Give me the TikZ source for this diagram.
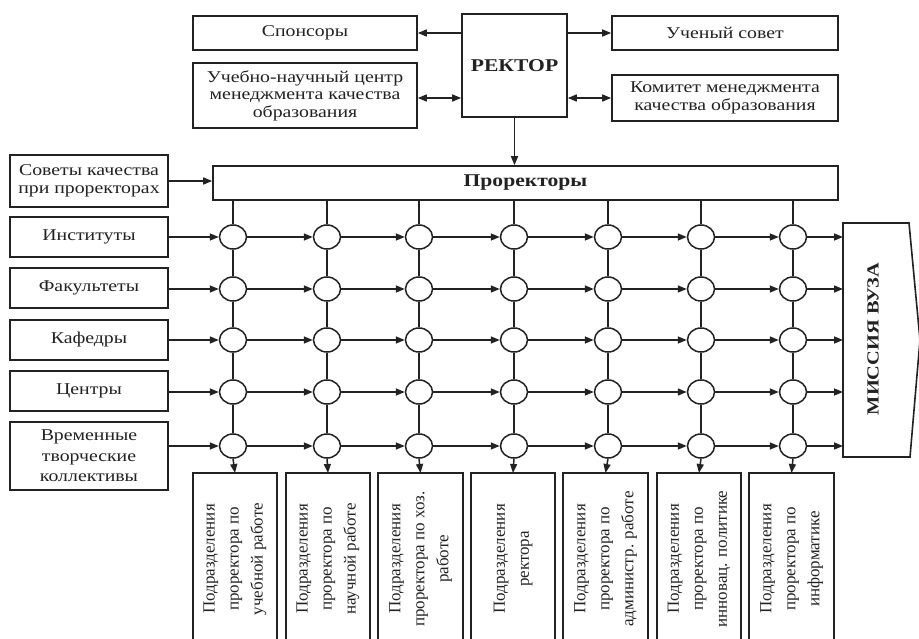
\documentclass[tikz,border=0pt]{standalone}
\usepackage{fontspec}
\setmainfont{Liberation Serif}[FakeStretch=1.2]
\newfontfamily\rotfont{Liberation Serif}
\usetikzlibrary{arrows.meta,shapes.geometric}
\definecolor{ink}{HTML}{222222}
\tikzset{
  boxstyle/.style={draw=ink, line width=1.6pt, rectangle, inner sep=0pt, align=center, font=\fontsize{16.5}{17.5}\selectfont, text=ink},
  circ/.style={draw=ink, line width=1.5pt, ellipse, minimum width=27pt, minimum height=24pt, inner sep=0pt, fill=white},
  conn/.style={draw=ink, line width=1.5pt},
  arr/.style={conn, -{Triangle[length=9pt,width=7pt]}},
  darr/.style={conn, {Triangle[length=9pt,width=7pt]}-{Triangle[length=9pt,width=7pt]}},
  vtext/.style={rotate=90, font=\rotfont\fontsize{17}{24}\selectfont, text=ink, align=center},
}
\begin{document}
\begin{tikzpicture}[x=1pt,y=-1pt]
\useasboundingbox (0,0) rectangle (919,639);
\fill[white] (0,0) rectangle (919,639);
% top boxes
\node[boxstyle, minimum width=224pt, minimum height=34pt] (spons) at (305,33) {Спонсоры};
\node[boxstyle, minimum width=224pt, minimum height=65pt] (ucheb) at (305,95.5) {Учебно-научный центр\\менеджмента качества\\образования};
\node[boxstyle, minimum width=105pt, minimum height=103pt, font=\bfseries\fontsize{18}{20}\selectfont] (rektor) at (514.5,65.5) {РЕКТОР};
\node[boxstyle, minimum width=226pt, minimum height=34pt] (uchsov) at (725,33) {Ученый совет};
\node[boxstyle, minimum width=226pt, minimum height=46pt] (komitet) at (725,98) {Комитет менеджмента\\качества образования};
\node[boxstyle, minimum width=625pt, minimum height=34pt, font=\bfseries\fontsize{18}{20}\selectfont] (prorek) at (525.5,183) {Проректоры};
\node[boxstyle, minimum width=158pt, minimum height=52pt] (sovety) at (89,181) {Советы качества\\при проректорах};
% left boxes
\node[boxstyle, minimum width=158pt, minimum height=40pt] (l1) at (89,237) {Институты};
\node[boxstyle, minimum width=158pt, minimum height=40pt] (l2) at (89,288) {Факультеты};
\node[boxstyle, minimum width=158pt, minimum height=40pt] (l3) at (89,340) {Кафедры};
\node[boxstyle, minimum width=158pt, minimum height=40pt] (l4) at (89,391) {Центры};
\node[boxstyle, minimum width=158pt, minimum height=68pt, font=\fontsize{16.5}{20.5}\selectfont] (l5) at (89,456) {Временные\\творческие\\коллективы};
% mission
\draw[ink, line width=1.6pt] (843,223) -- (909,223) -- (920,340) -- (910,457) -- (843,457) -- cycle;
\coordinate (mis) at (843,340);
\node[rotate=90, font=\bfseries\fontsize{17}{19}\selectfont, text=ink] (mtext) at (873,339) {МИССИЯ ВУЗА};
% bottom boxes
\foreach \i/\xa/\xb/\t in {
 1/193/277/{Подразделения\\проректора по\\учебной работе},
 2/286/370/{Подразделения\\проректора по\\научной работе},
 3/378/463/{Подразделения\\проректора по хоз.\\работе},
 4/471/555/{Подразделения\\ректора},
 5/563/648/{Подразделения\\проректора по\\администр. работе},
 6/657/741/{Подразделения\\проректора по\\инновац. политике},
 7/749/834/{Подразделения\\проректора по\\информатике}}{
  \draw[ink, line width=1.6pt] (\xa,473) rectangle (\xb,655);
  \node[vtext] (bt\i) at ({(\xa+\xb)/2},559) {\t};
  \coordinate (b\i) at ({(\xa+\xb)/2},473);
}
% circles
\foreach \c/\x in {1/233,2/327,3/419,4/514,5/608,6/701,7/793}{
  \foreach \r/\y in {1/237,2/289,3/340,4/392,5/446}{
    \node[circ] (n\r\c) at (\x,\y) {};
  }
}
% vertical connectors
\foreach \c in {1,...,7}{
  \draw[conn] (prorek.south -| n1\c) -- (n1\c.north);
  \draw[conn] (n1\c.south) -- (n2\c.north);
  \draw[conn] (n2\c.south) -- (n3\c.north);
  \draw[conn] (n3\c.south) -- (n4\c.north);
  \draw[conn] (n4\c.south) -- (n5\c.north);
  \draw[arr] (n5\c.south) -- (b\c);
}
% horizontal connectors
\foreach \r/\y in {1/237,2/289,3/340,4/392,5/446}{
  \draw[arr] (l\r.east |- n\r1) -- (n\r1.west);
  \foreach \a/\b in {1/2,2/3,3/4,4/5,5/6,6/7}{
    \draw[arr] (n\r\a.east) -- (n\r\b.west);
  }
  \draw[arr] (n\r7.east) -- (mis |- n\r7);
}
% top connectors
\draw[arr] (rektor.west |- spons.east) -- (spons.east);
\draw[darr] (ucheb.east |- 0,98) -- (rektor.west |- 0,98);
\draw[arr] (rektor.east |- uchsov.west) -- (uchsov.west);
\draw[darr] (rektor.east |- komitet.west) -- (komitet.west);
\draw[arr] (rektor.south) -- (prorek.north -| rektor.south);
\draw[arr] (sovety.east) -- (prorek.west |- sovety.east);
\end{tikzpicture}
\end{document}
